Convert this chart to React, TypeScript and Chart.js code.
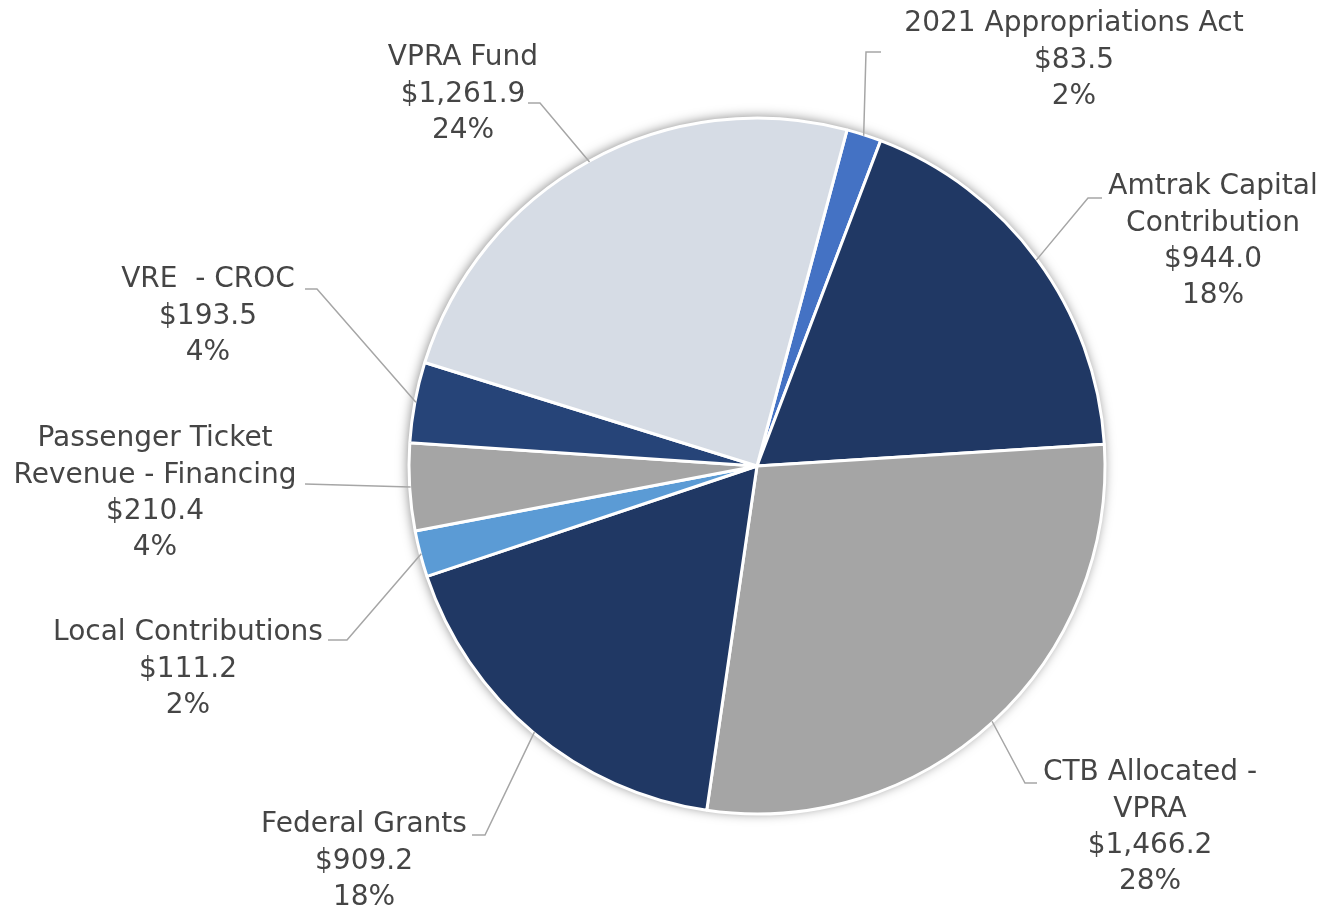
import React, { useEffect, useRef } from "react";
import { Chart, registerables } from "chart.js";

Chart.register(...registerables);

// ---- Data ----
const CATEGORIES: string[][] = [
  ["2021 Appropriations Act"],
  ["Amtrak Capital", "Contribution"],
  ["CTB Allocated -", "VPRA"],
  ["Federal Grants"],
  ["Local Contributions"],
  ["Passenger Ticket", "Revenue - Financing"],
  ["VRE  - CROC"],
  ["VPRA Fund"],
];
const VALUES: number[] = [83.5, 944.0, 1466.2, 909.2, 111.2, 210.4, 193.5, 1261.9];

// ---- Styles ----
const COLORS = ["#4472C4", "#203864", "#A5A5A5", "#203864", "#5B9BD5", "#A5A5A5", "#264478", "#D6DCE5"];
const TEXT_COLOR = "#454545";
const LEADER_COLOR = "#A6A6A6";
const FONT_FAMILY = "'DejaVu Sans', sans-serif";
const FONT_SIZE = 28;
const LINE_HEIGHT = 36.3;
const BASE_RADIUS = 348;

// label layout, pixel offsets from the pie centre at BASE_RADIUS
// text: centre of first line; elbow: leader bend; end: leader end
const LABEL_LAYOUT = [
  { text: [317, -442], elbow: [109, -414], end: [124, -414] },
  { text: [456, -279], elbow: [331, -268], end: [345, -268] },
  { text: [393, 307], elbow: [268, 317], end: [280, 317] },
  { text: [-393, 359], elbow: [-272, 369], end: [-285, 369] },
  { text: [-569, 167], elbow: [-410, 174], end: [-429, 174] },
  { text: [-602, -27], elbow: [-452, 18], end: [-452, 18] },
  { text: [-549, -186], elbow: [-440, -177], end: [-452, -177] },
  { text: [-294, -408], elbow: [-217, -363], end: [-229, -363] },
];

const fmtMoney = (v: number) =>
  "$" + v.toLocaleString("en-US", { minimumFractionDigits: 1, maximumFractionDigits: 1 });

const shadowPlugin = {
  id: "pieShadow",
  beforeDatasetsDraw(chart: any) {
    const meta = chart.getDatasetMeta(0);
    if (!meta.data.length) return;
    const arc: any = meta.data[0];
    const { x, y, outerRadius } = arc.getProps(["x", "y", "outerRadius"], true);
    const ctx = chart.ctx;
    ctx.save();
    ctx.shadowColor = "rgba(0,0,0,0.5)";
    ctx.shadowBlur = 12;
    ctx.shadowOffsetX = -1;
    ctx.shadowOffsetY = -1;
    ctx.fillStyle = "#ffffff";
    ctx.beginPath();
    ctx.arc(x, y, outerRadius, 0, Math.PI * 2);
    ctx.fill();
    ctx.restore();
  },
};

const labelPlugin = {
  id: "pieLabels",
  afterDatasetsDraw(chart: any) {
    const meta = chart.getDatasetMeta(0);
    const ctx = chart.ctx;
    const total = VALUES.reduce((a, b) => a + b, 0);
    meta.data.forEach((el: any, i: number) => {
      const { x, y, startAngle, endAngle, outerRadius } = el.getProps(
        ["x", "y", "startAngle", "endAngle", "outerRadius"],
        true
      );
      const s = outerRadius / BASE_RADIUS;
      const mid = (startAngle + endAngle) / 2;
      const ax = x + Math.cos(mid) * (outerRadius - 1);
      const ay = y + Math.sin(mid) * (outerRadius - 1);
      const lay = LABEL_LAYOUT[i];
      ctx.save();
      ctx.strokeStyle = LEADER_COLOR;
      ctx.lineWidth = 1.5;
      ctx.beginPath();
      ctx.moveTo(ax, ay);
      ctx.lineTo(x + lay.elbow[0] * s, y + lay.elbow[1] * s);
      ctx.lineTo(x + lay.end[0] * s, y + lay.end[1] * s);
      ctx.stroke();

      const lines = [
        ...CATEGORIES[i],
        fmtMoney(VALUES[i]),
        Math.round((VALUES[i] / total) * 100) + "%",
      ];
      ctx.fillStyle = TEXT_COLOR;
      ctx.font = `${FONT_SIZE}px ${FONT_FAMILY}`;
      ctx.textAlign = "center";
      ctx.textBaseline = "middle";
      const tx = x + lay.text[0] * s;
      const ty = y + lay.text[1] * s;
      lines.forEach((ln, k) => ctx.fillText(ln, tx, ty + k * LINE_HEIGHT));
      ctx.restore();
    });
  },
};

export default function App() {
  const canvasRef = useRef<HTMLCanvasElement | null>(null);

  useEffect(() => {
    document.body.style.margin = "0";
    const canvas = canvasRef.current;
    if (!canvas) return;
    const chart = new Chart(canvas, {
      type: "pie",
      data: {
        labels: CATEGORIES,
        datasets: [
          {
            data: VALUES,
            backgroundColor: COLORS,
            borderColor: "#ffffff",
            borderWidth: 3,
            hoverOffset: 0,
            radius: BASE_RADIUS,
          } as any,
        ],
      },
      options: {
        responsive: false,
        animation: false,
        rotation: 15,
        layout: { padding: { left: 300, right: 119, top: 106, bottom: 85 } },
        plugins: {
          legend: { display: false },
          tooltip: { enabled: false },
          title: { display: false },
        },
      },
      plugins: [shadowPlugin, labelPlugin],
    });
    return () => chart.destroy();
  }, []);

  return (
    <div style={{ width: 1333, height: 911, background: "#ffffff" }}>
      <canvas ref={canvasRef} width={1333} height={911} />
    </div>
  );
}
